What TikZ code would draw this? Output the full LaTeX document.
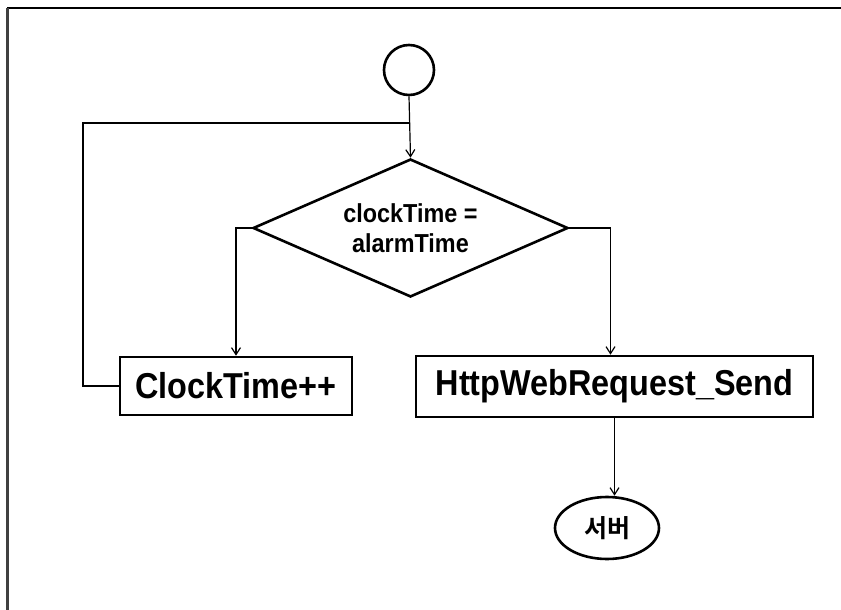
\documentclass[tikz,border=0pt]{standalone}
\usepackage{fontspec}
\setmainfont{Liberation Sans}
\newfontfamily\boxfont{Liberation Sans Bold}[FakeStretch=0.9]
\newfontfamily\korfont{Noto Sans CJK KR Bold}
\usetikzlibrary{shapes.geometric,arrows.meta}

\tikzset{
  thickline/.style={line width=2.6pt, draw=black},
  flow/.style={line width=1.2pt, draw=black},
  flowarrow/.style={flow, -{Straight Barb[length=7pt,width=9pt,line width=1.2pt]}},
  procbox/.style={thickline, rectangle, inner sep=0pt, font=\boxfont\fontsize{36}{40}\selectfont},
  decision/.style={thickline, diamond, aspect=2.28, inner sep=0pt, align=center,
    minimum width=315pt, minimum height=138pt, font=\boxfont\fontsize{26}{30}\selectfont},
  terminal/.style={thickline, ellipse, inner sep=0pt, font=\korfont\fontsize{25}{28}\selectfont}
}

\begin{document}
\begin{tikzpicture}[x=1pt, y=-1pt]
  \useasboundingbox (0,0) rectangle (841,610);
  \fill[white] (0,0) rectangle (841,610);

  % outer frame (top and left edges)
  \draw[line width=2pt, black] (7,8) -- (841,8);
  \draw[line width=3pt, black!75] (7,8) -- (7,610);

  % nodes
  \node[thickline, circle, minimum size=50pt, inner sep=0pt] (start) at (409,70) {};
  \node[decision] (cond) at (410.5,228) {clockTime =\\alarmTime};
  \node[procbox, minimum width=232pt, minimum height=58pt] (inc) at (236,386) {ClockTime++};
  \node[procbox, minimum width=397pt, minimum height=61pt] (send) at (614.5,386.5) {HttpWebRequest\_Send};
  \node[terminal, minimum width=104pt, minimum height=62pt] (server) at (607,528) {서버};

  \coordinate (split) at (start.south |- 0,123);

  % connectors
  \draw[flowarrow] (start.south) -- (cond.north);
  \draw[flow] (split) -| (83,386) -- (inc.west);
  \draw[flowarrow] (cond.west) -| (inc.north);
  \draw[flowarrow] (cond.east) -| ([xshift=-4pt]send.north);
  \draw[flowarrow] (send.south) -- (send.south |- server.north);
\end{tikzpicture}
\end{document}
